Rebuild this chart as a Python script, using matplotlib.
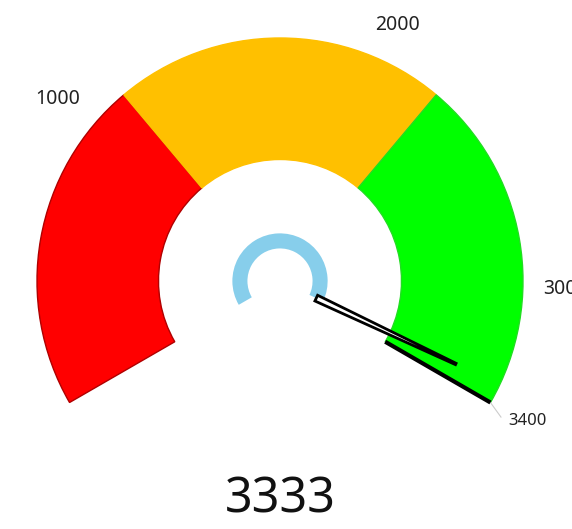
import numpy as np
import matplotlib
matplotlib.use("Agg")
import matplotlib.pyplot as plt
from matplotlib.patches import Wedge, Polygon

plt.rcParams['font.family'] = ['Noto Sans', 'DejaVu Sans']

# gauge data
v_min, v_max = 0, 3400
value = 3333
band_colors = ["#ff0000", "#ffc000", "#00ff00"]
band_edges = ["#b00000", "#ffc000", "#22dd22"]
tick_values = [1000, 2000, 3000, 3400]
tick_labels = ["1000", "2000", "3000", "3400"]

START, END = 210.0, -30.0  # degrees, clockwise sweep


def val2ang(v):
    return START - (v - v_min) / (v_max - v_min) * (START - END)


fig = plt.figure(figsize=(5.72, 5.29), dpi=100)
ax = fig.add_axes([0, 0, 1, 1])
R = 243.0
cx, cy = 280.0, 529 - 281.0
ax.set_xlim(-cx / R, (572 - cx) / R)
ax.set_ylim(-cy / R, (529 - cy) / R)
ax.set_aspect("equal")
ax.axis("off")

# three equal bands
n = len(band_colors)
for i in range(n):
    a2 = START - i * (START - END) / n
    a1 = START - (i + 1) * (START - END) / n
    ax.add_patch(Wedge((0, 0), 1.0, a1, a2, width=0.5,
                       facecolor=band_colors[i], edgecolor=band_edges[i], lw=1))

# black edge at end of scale
t = np.radians(END)
ax.plot([0.5 * np.cos(t), 1.0 * np.cos(t)], [0.5 * np.sin(t), 1.0 * np.sin(t)],
        color="black", lw=3, solid_capstyle="butt", zorder=4)

# progress arc
ax.add_patch(Wedge((0, 0), 0.196, val2ang(value), START, width=0.062,
                   facecolor="#87ceeb", edgecolor="none", zorder=3))

# needle
a = np.radians(val2ang(value))
ux, uy = np.cos(a), np.sin(a)
px, py = -uy, ux
r0, r1 = 0.165, 0.80
w0, w1 = 0.013, 0.003
pts = [(r0 * ux + w0 * px, r0 * uy + w0 * py),
       (r1 * ux + w1 * px, r1 * uy + w1 * py),
       (r1 * ux - w1 * px, r1 * uy - w1 * py),
       (r0 * ux - w0 * px, r0 * uy - w0 * py)]
ax.add_patch(Polygon(pts, closed=True, facecolor="white", edgecolor="black",
                     lw=2, zorder=5))

# labels
rl = 1.085
for v, lab in zip(tick_values, tick_labels):
    ang = np.radians(val2ang(v))
    x, y = rl * np.cos(ang), rl * np.sin(ang)
    if v == v_max:
        ax.plot([np.cos(ang), 1.05 * np.cos(ang)],
                [np.sin(ang), 1.06 * np.sin(ang) - 0.03],
                color="#cccccc", lw=0.8)
        ax.text(x, y, lab, ha="left", va="top", fontsize=12, color="#222222")
    elif np.cos(ang) < 0:
        ax.text(x, y, lab, ha="right", va="bottom", fontsize=14, color="#222222")
    elif v == 3000:
        ax.text(x, y, lab, ha="left", va="center", fontsize=14, color="#222222")
    else:
        ax.text(x, y, lab, ha="left", va="bottom", fontsize=14, color="#222222")

# value
ax.text(0, -0.90, str(value), ha="center", va="center", fontsize=35, color="#111111")

fig.savefig("out.png", dpi=100)
